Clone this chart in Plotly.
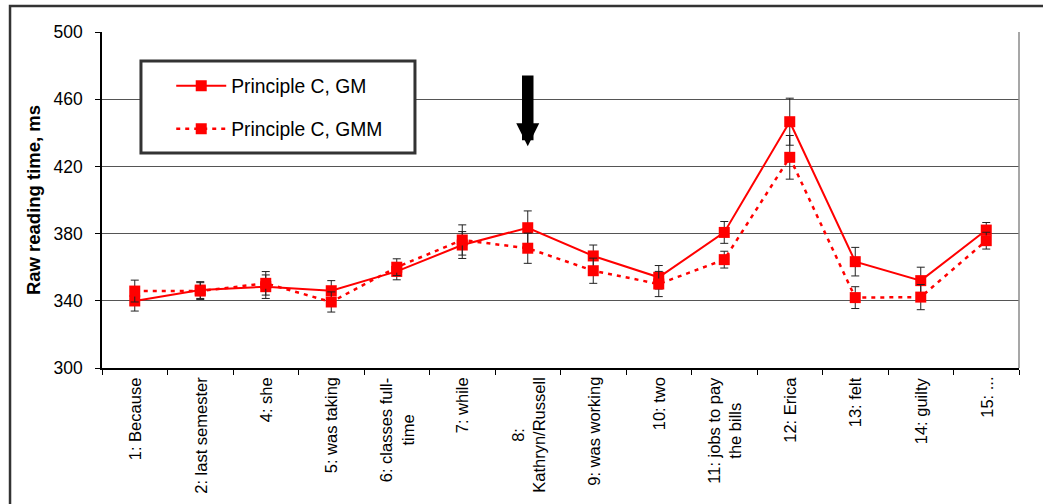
import plotly.graph_objects as go

# Sentence regions (x categories)
regions = [
    "1: Because",
    "2: last semester",
    "4: she",
    "5: was taking",
    "6: classes full-<br>time",
    "7: while",
    "8:<br>Kathryn/Russell",
    "9: was working",
    "10: two",
    "11: jobs to pay<br>the bills",
    "12: Erica",
    "13: felt",
    "14: guilty",
    "15: ...",
]

# Mean raw reading times (ms) and standard errors
gm_mean = [339.9, 346.4, 348.4, 346.0, 357.5, 373.2, 383.5, 366.7, 354.0, 380.7, 446.6, 363.3, 352.0, 382.1]
gm_err = [6.0, 5.0, 7.0, 6.0, 5.0, 8.0, 10.0, 6.5, 7.0, 6.5, 14.0, 8.5, 8.0, 4.5]
gmm_mean = [345.8, 345.8, 350.4, 339.3, 360.0, 376.2, 371.3, 357.9, 350.0, 364.5, 425.4, 341.9, 342.2, 375.8]
gmm_err = [6.5, 5.0, 7.0, 6.0, 5.0, 9.0, 9.0, 7.5, 7.5, 5.0, 13.0, 6.5, 7.5, 5.0]

y_ticks = [300, 340, 380, 420, 460, 500]

FONT = "Liberation Sans, Arial, sans-serif"
RED = "#FF0000"

fig = go.Figure()

fig.add_trace(go.Scatter(
    x=regions, y=gm_mean, name="Principle C, GM",
    mode="lines+markers",
    line=dict(color=RED, width=2),
    marker=dict(symbol="square", size=11, color=RED),
    error_y=dict(type="data", array=gm_err, color="#222222", thickness=1, width=4),
    legendgroup="gm",
))
fig.add_trace(go.Scatter(
    x=regions, y=gmm_mean, name="Principle C, GMM",
    mode="lines+markers",
    line=dict(color=RED, width=2.5, dash="4px,5px"),
    marker=dict(symbol="square", size=11, color=RED),
    error_y=dict(type="data", array=gmm_err, color="#222222", thickness=1, width=4),
    legendgroup="gmm",
))

# Rotated, centered region labels under the axis
for r in regions:
    fig.add_annotation(
        x=r, y=0, xref="x", yref="paper", text=r, textangle=-90,
        showarrow=False, xanchor="center", yanchor="top", yshift=-7,
        align="center", font=dict(family=FONT, size=16.5, color="#000000"),
    )

# Arrow marking the critical region
fig.add_annotation(
    x=regions[6], y=432, xref="x", yref="y",
    ax=regions[6], ay=475, axref="x", ayref="y",
    text="", showarrow=True, arrowhead=2, arrowsize=0.4,
    arrowwidth=11.5, arrowcolor="#000000",
)

# Plot-area right border, legend frame and outer frame
fig.add_shape(type="line", xref="paper", yref="paper", x0=1, x1=1, y0=0, y1=1,
              line=dict(color="#8a8a8a", width=1.5))
fig.add_shape(type="rect", xref="paper", yref="paper",
              x0=0.0425, x1=0.3413, y0=0.6399, y1=0.9137,
              fillcolor="#FFFFFF", line=dict(color="#333333", width=3), layer="above")
fig.add_shape(type="rect", xref="paper", yref="paper",
              x0=-0.1003, x1=1.04, y0=-0.45, y1=1.0774,
              line=dict(color="#333333", width=2.5), layer="above")

fig.update_layout(
    width=1043, height=504,
    margin=dict(l=102, r=24, t=32, b=136),
    paper_bgcolor="#FFFFFF", plot_bgcolor="#FFFFFF",
    font=dict(family=FONT, color="#000000"),
    showlegend=True,
    legend=dict(
        x=0.0755, y=0.897, xanchor="left", yanchor="top",
        bgcolor="rgba(0,0,0,0)", borderwidth=0,
        font=dict(family=FONT, size=19.3, color="#000000"),
        tracegroupgap=15, itemwidth=50,
    ),
    xaxis=dict(
        showticklabels=False, showgrid=False, showline=True,
        linecolor="#000000", linewidth=1.5,
        ticks="outside", ticklen=5, tickcolor="#000000", tickson="boundaries",
        range=[-0.5, len(regions) - 0.5], zeroline=False,
    ),
    yaxis=dict(
        range=[300, 500], tickvals=y_ticks, showgrid=True,
        gridcolor="#555555", gridwidth=1,
        showline=True, linecolor="#000000", linewidth=1.5,
        ticks="outside", ticklen=5, tickcolor="#000000",
        ticklabelstandoff=9,
        tickfont=dict(family=FONT, size=17.5), zeroline=False,
        title=dict(text="<b>Raw reading time, ms</b>",
                   font=dict(family=FONT, size=18.5), standoff=8),
    ),
)

fig.write_html("out.html")
